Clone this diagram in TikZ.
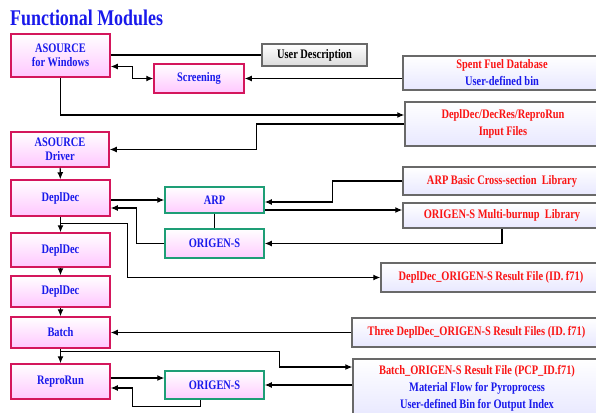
\documentclass[tikz,border=0pt]{standalone}
\usepackage{fontspec}
\setmainfont{Liberation Serif}[FakeStretch=0.8]
\usepackage{xcolor}
\usetikzlibrary{arrows.meta, shadows}

\definecolor{modborder}{RGB}{212,22,92}
\definecolor{engborder}{RGB}{30,158,118}
\definecolor{fileborder}{RGB}{105,105,105}
\definecolor{textblue}{RGB}{25,25,235}
\definecolor{textred}{RGB}{250,20,20}

\begin{document}
\begin{tikzpicture}[x=1pt, y=-1pt,
        every node/.style={font=\bfseries\fontsize{13}{14}\selectfont, align=center, inner sep=1pt},
        boxbase/.style={line width=1.5pt, drop shadow={shadow xshift=1.3pt, shadow yshift=-1.3pt, fill=black!55}},
        module/.style={boxbase, draw=modborder, top color=white, bottom color=magenta!22, text=textblue},
        engine/.style={boxbase, draw=engborder, top color=white, bottom color=magenta!20, text=textblue},
        datafile/.style={boxbase, draw=fileborder, top color=white, bottom color=blue!9, text=textred,
            font=\bfseries\fontsize{13}{17}\selectfont},
        arrow/.style={-{Latex[length=7pt, width=6pt]}, line width=1.1pt},
        twoway/.style={{Latex[length=7pt, width=6pt]}-{Latex[length=7pt, width=6pt]}, line width=1.1pt},
        link/.style={line width=1.1pt}
    ]
        \clip (0,0) rectangle (596,412);

        \node (title) at (9,18) [anchor=west, text=textblue, font=\bfseries\fontsize{22.4}{24}\selectfont] {Functional Modules};

        % Modules
        \node (winsrc) at (60.5,55.5) [module, minimum width=99pt, minimum height=43pt] {ASOURCE\\for Windows};
        \node (driver) at (60,149.5) [module, minimum width=98pt, minimum height=35pt] {ASOURCE\\Driver};
        \node (deplA) at (60.5,198) [module, minimum width=99pt, minimum height=36pt] {DeplDec};
        \node (deplB) at (60.5,250) [module, minimum width=99pt, minimum height=34pt] {DeplDec};
        \node (deplC) at (60.5,291.5) [module, minimum width=99pt, minimum height=31pt] {DeplDec};
        \node (batch) at (60.5,332.5) [module, minimum width=99pt, minimum height=31pt] {Batch};
        \node (repro) at (60.5,381.5) [module, minimum width=99pt, minimum height=35pt] {ReproRun};
        \node (screening) at (199,78.5) [module, minimum width=90pt, minimum height=29pt] {Screening};

        \node (arp) at (214.5,200) [engine, minimum width=99pt, minimum height=26pt] {ARP};
        \node (origenA) at (214.5,243.5) [engine, minimum width=99pt, minimum height=29pt] {ORIGEN-S};
        \node (origenB) at (214.5,385) [engine, minimum width=99pt, minimum height=28pt] {ORIGEN-S};

        % Files
        \node (userdesc) at (314.5,55) [boxbase, draw=fileborder, top color=white, bottom color=black!14, minimum width=105pt, minimum height=22pt] {User Description};
        \node (spentdb) at (502,73) [datafile, minimum width=198pt, minimum height=34pt] {Spent Fuel Database\\\textcolor{textblue}{User-defined bin}};
        \node (inputfiles) at (503,124) [datafile, minimum width=196pt, minimum height=44pt] {DeplDec/DecRes/ReproRun\\Input Files};
        \node (arplib) at (502,181) [datafile, minimum width=198pt, minimum height=28pt] {ARP Basic Cross-section~ Library};
        \node (burnlib) at (502,215.5) [datafile, minimum width=198pt, minimum height=25pt] {ORIGEN-S Multi-burnup~ Library};
        \node (resfile) at (491,277.5) [datafile, minimum width=220pt, minimum height=29pt] {DeplDec\_ORIGEN-S Result File (ID. f71)};
        \node (threeres) at (476.5,332.5) [datafile, minimum width=249pt, minimum height=29pt] {Three DeplDec\_ORIGEN-S Result Files (ID. f71)};
        \node (batchres) at (477,388) [datafile, minimum width=248pt, minimum height=58pt] {Batch\_ORIGEN-S Result File (PCP\_ID.f71)\\\textcolor{textblue}{Material Flow for Pyroprocess}\\\textcolor{textblue}{User-defined Bin for Output Index}};

        % Connections
        \draw[link] (winsrc.east |- userdesc.west) -- (userdesc.west);
        \draw[twoway] ([yshift=-11pt]winsrc.east) -- ++(22,0) |- (screening.west);
        \draw[arrow] (spentdb.west |- screening.east) -- (screening.east);
        \draw[arrow] (winsrc.south) |- ([yshift=9pt]inputfiles.west);
        \draw[arrow] (inputfiles.west) -- ++(-148,0) |- (driver.east);
        \draw[arrow] (driver) -- (deplA);
        \draw[arrow] (deplA.east |- arp.west) -- (arp.west);
        \draw[arrow] (origenA.west) -- ++(-28,0) |- ([yshift=-10pt]deplA.east);
        \draw[link] (arp) -- (origenA);
        \draw[arrow] (arplib.west) -- ++(-70,0) |- ([yshift=-2pt]arp.east);
        \draw[arrow] ([yshift=-10pt]arp.east) -- ([yshift=-10pt]arp.east -| burnlib.west);
        \draw[arrow] (burnlib.south) |- (origenA.east);
        \draw[arrow] (deplA) -- (deplB);
        \draw[arrow] ([yshift=-7pt]deplA.south) -- ++(67,0) |- (resfile.west);
        \draw[arrow] (deplB) -- (deplC);
        \draw[arrow] (deplC) -- (batch);
        \draw[arrow] (threeres.west) -- (batch.east);
        \draw[arrow] (batch) -- (repro);
        \draw[arrow] ([yshift=-3pt]batch.south) -- ++(219,0) |- ([yshift=21pt]batchres.west);
        \draw[arrow] ([yshift=3.5pt]repro.east) -- ([yshift=3.5pt]repro.east -| origenB.west);
        \draw[arrow] ([xshift=-14pt]origenB.south) |- ++(-68,7) |- ([yshift=-6.5pt]repro.east);
        \draw[arrow] (batchres.west |- origenB.east) -- (origenB.east);
    \end{tikzpicture}
\end{document}
